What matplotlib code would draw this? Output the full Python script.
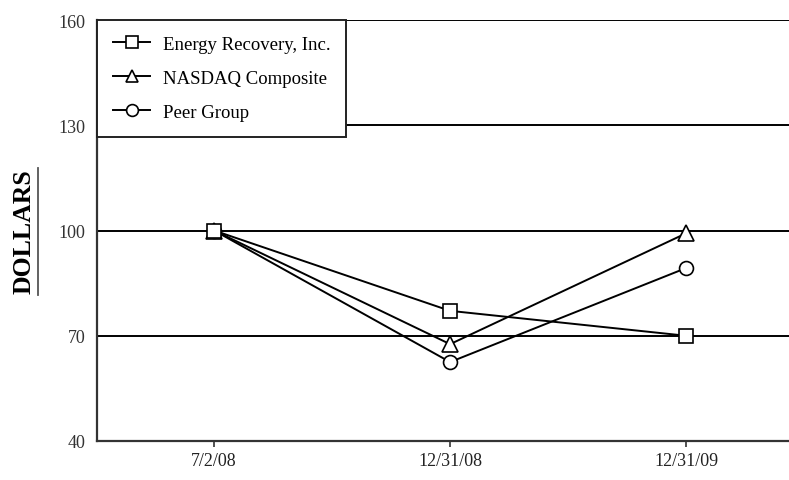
import matplotlib
matplotlib.use("Agg")
import matplotlib.pyplot as plt
from matplotlib.lines import Line2D

categories = ["7/2/08", "12/31/08", "12/31/09"]
eri = [100, 77.1, 70]
nasdaq = [100, 67.6, 99.2]
peer = [100, 62.5, 89.3]
yticks = [40, 70, 100, 130, 160]

plt.rcParams['font.family'] = ['Liberation Serif', 'DejaVu Serif']

fig = plt.figure(figsize=(7.89, 4.81), dpi=100)
ax = fig.add_axes([97/789, 39/481, 692/789, 421/481])

x = list(range(len(categories)))
for yv in yticks[1:]:
    ax.axhline(yv, color='black', lw=1.4, zorder=1)

mk = dict(markerfacecolor='white', markeredgecolor='black', markeredgewidth=1.2, color='black', lw=1.4)
ax.plot(x, peer, marker='o', markersize=10, label='Peer Group', zorder=3, **mk)
ax.plot(x, nasdaq, marker='^', markersize=11, label='NASDAQ Composite', zorder=4, **mk)
ax.plot(x, eri, marker='s', markersize=10, label='Energy Recovery, Inc.', zorder=5, **mk)

ax.set_xlim(-0.496, 2.436)
ax.set_ylim(40, 160)
ax.set_xticks(x)
ax.set_xticklabels(categories, fontsize=13, color='#222222')
ax.set_yticks(yticks)
ax.set_yticklabels([str(v) for v in yticks], fontsize=13, color='#333333')
ax.tick_params(axis='y', length=0, pad=8.5)
ax.tick_params(axis='x', length=4, width=1.2, direction='out', pad=4, color='#333333')
for s in ['top', 'right']:
    ax.spines[s].set_visible(False)
for s in ['left', 'bottom']:
    ax.spines[s].set_color('#333333')
    ax.spines[s].set_linewidth(1.6)

handles, labels = ax.get_legend_handles_labels()
leg = ax.legend(handles[::-1], labels[::-1], loc='upper left', bbox_to_anchor=(0, 1.0),
                fontsize=13.5, frameon=True, fancybox=False, framealpha=1,
                edgecolor='#222222', borderpad=0.84, labelspacing=0.9,
                handlelength=2.0, handletextpad=0.67, borderaxespad=0,
                markerscale=0.85)
leg.get_frame().set_linewidth(1.4)
leg.set_zorder(10)

fig.text(24/789, 1 - 232/481, 'DOLLARS', rotation=90, fontsize=18.5, fontweight='bold',
         ha='center', va='center')
fig.add_artist(Line2D([38/789, 38/789], [1 - 169/481, 1 - 296/481], color='#555555', lw=1.3))

fig.savefig('out.png', dpi=100)
